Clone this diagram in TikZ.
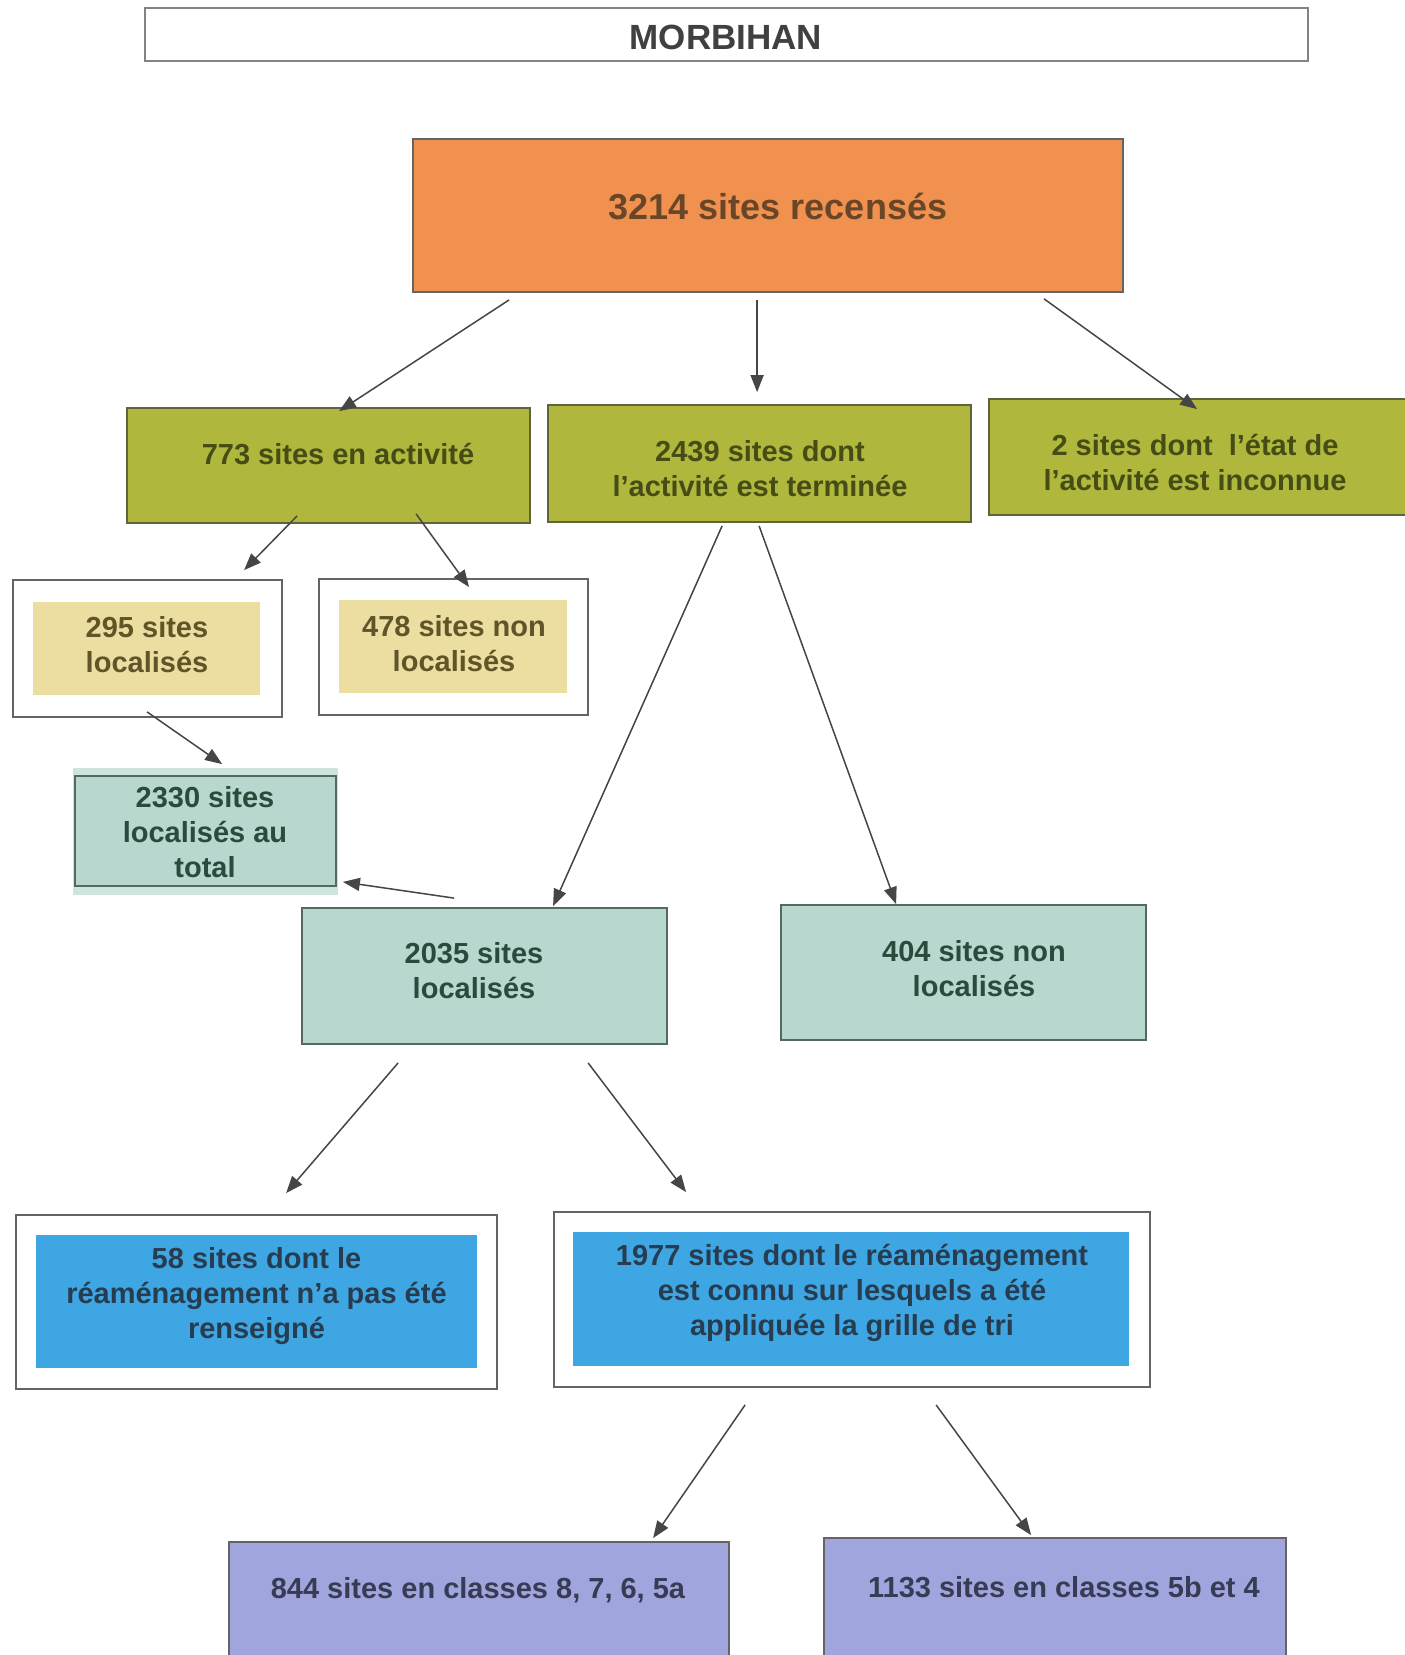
\documentclass[tikz,border=0pt]{standalone}
\usepackage{fontspec}
\setmainfont{Liberation Sans}
\usetikzlibrary{arrows.meta,calc}
\definecolor{orfill}{RGB}{241,145,80}
\definecolor{ortext}{RGB}{105,70,40}
\definecolor{grfill}{RGB}{175,184,60}
\definecolor{grtext}{RGB}{70,76,22}
\definecolor{grline}{RGB}{95,100,60}
\definecolor{yefill}{RGB}{236,221,160}
\definecolor{yetext}{RGB}{95,85,40}
\definecolor{tefill}{RGB}{184,215,206}
\definecolor{tehalo}{RGB}{205,229,221}
\definecolor{tetext}{RGB}{40,75,60}
\definecolor{teline}{RGB}{85,105,95}
\definecolor{blfill}{RGB}{62,166,226}
\definecolor{bltext}{RGB}{40,60,80}
\definecolor{pufill}{RGB}{160,165,221}
\definecolor{putext}{RGB}{55,60,85}
\definecolor{boxline}{RGB}{100,100,100}
\definecolor{arrline}{RGB}{70,70,70}
\begin{document}
\begin{tikzpicture}[x=1pt,y=-1pt,
  shape box/.style={rectangle, inner sep=0pt, line width=1.8pt},
  sz/.style 2 args={minimum width=#1pt, minimum height=#2pt},
  whitebox/.style={shape box, draw=boxline, fill=white},
  txt/.style={inner sep=0pt, align=center, font=\fontsize{29}{35}\selectfont\bfseries},
  arr/.style={draw=arrline, line width=1.5pt, -{Triangle[length=17pt,width=13pt]}}]
\useasboundingbox (0,0) rectangle (1405,1655);
\fill[white] (0,0) rectangle (1405,1655);

% title box
\node[whitebox, draw=boxline!80, sz={1163}{53}] (morb) at (726.5,34.5) {};
\node[txt, font=\fontsize{35}{40}\selectfont\bfseries, text=black!75] (tmorb) at (726,37) {MORBIHAN};

% top box
\node[shape box, draw=boxline, fill=orfill, sz={710}{153}] (rec) at (768,215.5) {};
\node[txt, font=\fontsize{36}{42}\selectfont\bfseries, text=ortext] (trec) at (778,206) {3214 sites recensés};

% green row
\node[shape box, draw=grline, fill=grfill, sz={403}{115}] (act) at (328.5,465.5) {};
\node[txt, text=grtext] (tact) at (338,454) {773 sites en activité};
\node[shape box, draw=grline, fill=grfill, sz={423}{117}] (term) at (759.5,463.5) {};
\node[txt, text=grtext] (tterm) at (760,469) {2439 sites dont\\l’activité est terminée};
\node[shape box, draw=grline, fill=grfill, sz={421}{116}] (inc) at (1199.5,457) {};
\node[txt, text=grtext] (tinc) at (1195,462) {2 sites dont \ l’état de\\l’activité est inconnue};

% yellow boxes
\node[whitebox, sz={269}{137}] (w295) at (147.5,648.5) {};
\node[shape box, fill=yefill, sz={227}{93}] (y295) at (146.5,648.5) {};
\node[txt, text=yetext] (t295) at (147,645) {295 sites\\localisés};
\node[whitebox, sz={269}{136}] (w478) at (453.5,647) {};
\node[shape box, fill=yefill, sz={228}{93}] (y478) at (453,646.5) {};
\node[txt, text=yetext] (t478) at (454,644) {478 sites non\\localisés};

% total
\node[shape box, fill=tehalo, sz={265}{127}] (halo) at (205.5,831.5) {};
\node[shape box, draw=teline, fill=tefill, sz={261}{110}] (tot) at (205.5,831) {};
\node[txt, text=tetext] (ttot) at (205,832) {2330 sites\\localisés au\\total};

% teal row
\node[shape box, draw=teline, fill=tefill, sz={365}{136}] (loc) at (484.5,976) {};
\node[txt, text=tetext] (tloc) at (474,971) {2035 sites\\localisés};
\node[shape box, draw=teline, fill=tefill, sz={365}{135}] (nloc) at (963.5,972.5) {};
\node[txt, text=tetext] (tnloc) at (974,969) {404 sites non\\localisés};

% blue boxes
\node[whitebox, sz={481}{174}] (w58) at (256.5,1302) {};
\node[shape box, fill=blfill, sz={441}{133}] (b58) at (256.5,1301.5) {};
\node[txt, text=bltext] (t58) at (256.5,1296) {58 sites dont le\\réaménagement n’a pas été\\renseigné};
\node[whitebox, sz={596}{175}] (w1977) at (852,1299.5) {};
\node[shape box, fill=blfill, sz={556}{134}] (b1977) at (851,1299) {};
\node[txt, text=bltext] (t1977) at (852,1293) {1977 sites dont le réaménagement\\est connu sur lesquels a été\\appliquée la grille de tri};

% purple boxes
\node[shape box, draw=boxline, fill=pufill, sz={500}{123}] (c1) at (479,1603.5) {};
\node[txt, text=putext] (tc1) at (478,1590) {844 sites en classes 8, 7, 6, 5a};
\node[shape box, draw=boxline, fill=pufill, sz={462}{127}] (c2) at (1055,1601.5) {};
\node[txt, text=putext] (tc2) at (1064,1587) {1133 sites en classes 5b et 4};

% connectors
\draw[arr] ($(rec.south west)+(97,7)$) -- ($(act.north west)+(213,4)$);
\draw[arr] ($(rec.south west)+(345,7)$) -- ($(term.north west)+(210,-12)$);
\draw[arr] ($(rec.south west)+(632,6)$) -- ($(inc.north west)+(209,11)$);
\draw[arr] ($(act.south west)+(171,-8)$) -- ($(w295.north west)+(232,-9)$);
\draw[arr] ($(act.south west)+(290,-10)$) -- ($(w478.north west)+(151,9)$);
\draw[arr] ($(w295.south west)+(135,-6)$) -- ($(tot.north west)+(148,-11)$);
\draw[arr] ($(term.south west)+(175,3)$) -- ($(loc.north west)+(252,-1)$);
\draw[arr] ($(term.south west)+(212,3)$) -- ($(nloc.north west)+(116,0)$);
\draw[arr] ($(loc.north west)+(153,-9)$) -- ($(tot.south east)+(6,-5)$);
\draw[arr] ($(loc.south west)+(97,18)$) -- ($(w58.north west)+(271,-21)$);
\draw[arr] ($(loc.south west)+(287,18)$) -- ($(w1977.north west)+(133,-19)$);
\draw[arr] ($(w1977.south west)+(192,17)$) -- ($(c1.north west)+(425,-3)$);
\draw[arr] ($(w1977.south west)+(383,17)$) -- ($(c2.north west)+(208,-2)$);
\end{tikzpicture}
\end{document}
